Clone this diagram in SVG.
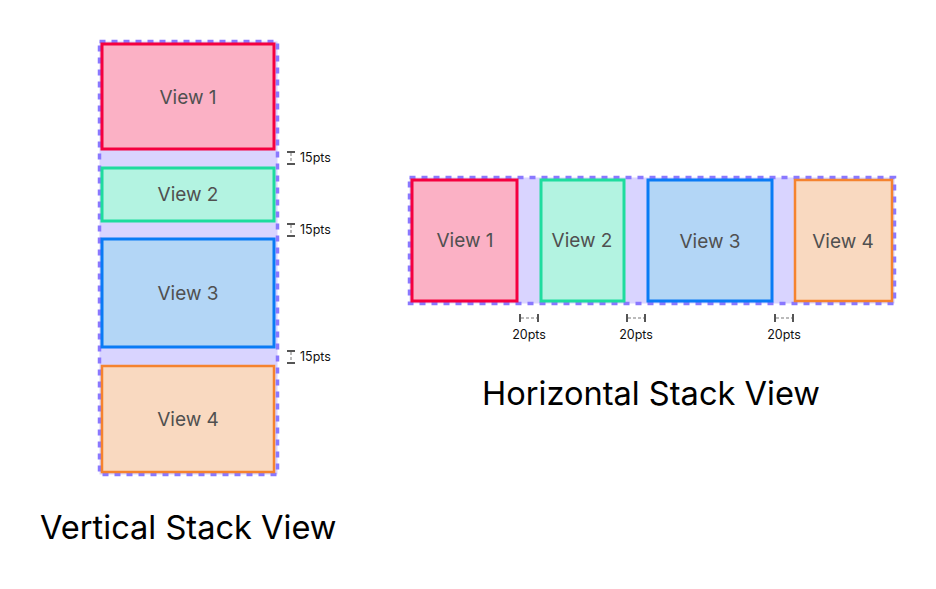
<svg xmlns="http://www.w3.org/2000/svg" width="936" height="589" viewBox="0 0 936 589">
<style>
.stack{fill:#D9D4FF;stroke:#8A78FF;stroke-width:3.5;stroke-dasharray:6 6}
.v1{fill:#FBB1C5;stroke:#F5003F;stroke-width:3}
.v2{fill:#B3F3E1;stroke:#1EDC9E;stroke-width:3}
.v3{fill:#B3D6F6;stroke:#0A7BF5;stroke-width:3}
.v4{fill:#F9D9C0;stroke:#F5832F;stroke-width:2.5}
.lbl{font-family:Inter,"Liberation Sans",sans-serif;font-size:19px;fill:#505050;text-anchor:middle}
.title{font-family:Inter,"Liberation Sans",sans-serif;font-size:32.6px;fill:#000}
.pts{font-family:Inter,"Liberation Sans",sans-serif;font-size:12.5px;fill:#111}
.cap{stroke:#555;stroke-width:2}
.dash{stroke:#bbb;stroke-width:2;stroke-dasharray:3 2}
</style>
<g id="vertical-stack">
<rect class="stack" x="99.5" y="41.5" width="178" height="433"/>
<g id="v-view1"><rect class="v1" x="102" y="44" width="172" height="105"/><text class="lbl" x="188" y="104">View 1</text></g>
<g id="v-view2"><rect class="v2" x="102" y="168" width="172" height="53"/><text class="lbl" x="188" y="201">View 2</text></g>
<g id="v-view3"><rect class="v3" x="102" y="239" width="172" height="108"/><text class="lbl" x="188" y="300">View 3</text></g>
<g id="v-view4"><rect class="v4" x="102" y="366" width="172" height="106"/><text class="lbl" x="188" y="426">View 4</text></g>
</g>
<g id="horizontal-stack">
<rect class="stack" x="409.5" y="177.5" width="485" height="126"/>
<g id="h-view1"><rect class="v1" x="412" y="180" width="105" height="121"/><text class="lbl" x="465" y="247">View 1</text></g>
<g id="h-view2"><rect class="v2" x="541" y="180" width="83" height="121"/><text class="lbl" x="582" y="247">View 2</text></g>
<g id="h-view3"><rect class="v3" x="648" y="180" width="124" height="121"/><text class="lbl" x="710" y="248">View 3</text></g>
<g id="h-view4"><rect class="v4" x="795" y="180" width="97" height="121"/><text class="lbl" x="843" y="248">View 4</text></g>
</g>
<g id="connectors">
<g id="v-gap1"><line class="dash" x1="291" y1="153" x2="291" y2="163"/><line class="cap" x1="287" y1="152" x2="295" y2="152"/><line class="cap" x1="287" y1="164" x2="295" y2="164"/></g>
<g id="v-gap2"><line class="dash" x1="291" y1="225" x2="291" y2="235"/><line class="cap" x1="287" y1="224" x2="295" y2="224"/><line class="cap" x1="287" y1="236" x2="295" y2="236"/></g>
<g id="v-gap3"><line class="dash" x1="291" y1="352" x2="291" y2="362"/><line class="cap" x1="287" y1="351" x2="295" y2="351"/><line class="cap" x1="287" y1="363" x2="295" y2="363"/></g>
<g id="h-gap1"><line class="dash" x1="521" y1="318" x2="537" y2="318"/><line class="cap" x1="520" y1="314" x2="520" y2="322"/><line class="cap" x1="538" y1="314" x2="538" y2="322"/></g>
<g id="h-gap2"><line class="dash" x1="628" y1="318" x2="644" y2="318"/><line class="cap" x1="627" y1="314" x2="627" y2="322"/><line class="cap" x1="645" y1="314" x2="645" y2="322"/></g>
<g id="h-gap3"><line class="dash" x1="776" y1="318" x2="792" y2="318"/><line class="cap" x1="775" y1="314" x2="775" y2="322"/><line class="cap" x1="793" y1="314" x2="793" y2="322"/></g>
</g>
<text class="pts" x="300" y="162">15pts</text>
<text class="pts" x="300" y="234">15pts</text>
<text class="pts" x="300" y="361">15pts</text>
<text class="pts" x="529" y="339" text-anchor="middle">20pts</text>
<text class="pts" x="636" y="339" text-anchor="middle">20pts</text>
<text class="pts" x="784" y="339" text-anchor="middle">20pts</text>
<text class="title" x="40" y="539">Vertical Stack View</text>
<text class="title" x="482" y="405">Horizontal Stack View</text>
</svg>
